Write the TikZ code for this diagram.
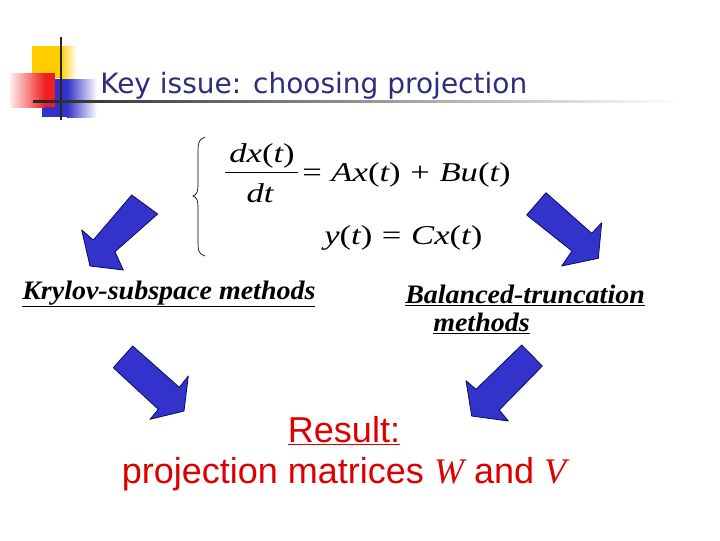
\documentclass[tikz,border=0pt]{standalone}
\usepackage{fontspec}
\usepackage{graphicx}
\setmainfont{Liberation Sans}
\newfontfamily\tnr{Liberation Serif}
\newfontfamily\titlefont{DejaVu Sans}
\newcommand\mi[1]{{\itshape #1}}
\newcommand\eqs[1]{\scalebox{1.3}[1.02]{#1}}
\newcommand\lbs[1]{\scalebox{1.05}[1]{#1}}
\definecolor{arrowfill}{RGB}{51,51,204}
\definecolor{arrowline}{RGB}{10,10,100}
\definecolor{titleblue}{RGB}{45,45,125}
\definecolor{resred}{RGB}{220,0,0}
\definecolor{decoyellow}{RGB}{255,204,0}
\definecolor{decored}{RGB}{240,30,30}
\definecolor{decoblue}{RGB}{50,50,200}
\tikzset{
  bigarrow/.style={fill=arrowfill, draw=arrowline, line width=0.6pt, line join=round},
  eqtext/.style={font=\tnr\fontsize{20}{24}\selectfont, inner sep=0pt},
  methlabel/.style={font=\tnr\bfseries\itshape\fontsize{20}{24}\selectfont, inner sep=0pt, anchor=base west},
}
\begin{document}
\begin{tikzpicture}[x=0.75pt,y=-0.75pt]
\useasboundingbox (0,0) rectangle (720,540);
% title decoration
\fill[decoyellow] (32,46) rectangle (60,78);
\shade[left color=decoyellow, right color=white] (60,46) rectangle (77,78);
\fill[decoblue] (42,79) rectangle (67,117);
\shade[left color=decoblue, right color=white] (67,79) rectangle (97,117);
\shade[left color=decored!8, right color=decored] (10,73) rectangle (45,107);
\fill[decored] (45,73) rectangle (55,107);
\draw[line width=1.6pt, black!85] (61,37) -- (61,120);
\shade[left color=black!85, right color=white] (33,100) rectangle (680,102.5);
\node[font=\titlefont\fontsize{21}{25}\selectfont, text=titleblue, anchor=base west, inner sep=0pt] (title) at (100,93) {Key issue: choosing projection};
% equation
\draw[line width=0.5pt] (205,137) .. controls (199,139) and (198,143) .. (198,150) -- (198,186) .. controls (198,192) and (196,195) .. (193,196) .. controls (196,197) and (198,200) .. (198,206) -- (198,244) .. controls (198,251) and (199,254) .. (205,256);
\node[eqtext, anchor=base] (num) at (262,162) {\eqs{\mi{dx}(\mi{t})}};
\draw[line width=0.8pt] (225,172.5) -- (298,172.5);
\node[eqtext, anchor=base] (den) at (260,202) {\eqs{\mi{dt}}};
\node[eqtext, anchor=base west] (rhs) at (302,181) {\eqs{=\;\mi{Ax}(\mi{t})\;+\;\mi{Bu}(\mi{t})}};
\node[eqtext, anchor=base west] (row2) at (324,244) {\eqs{\mi{y}(\mi{t})\;=\;\mi{Cx}(\mi{t})}};
% labels
\node[methlabel] (kry) at (22,299) {\lbs{\underline{Krylov-subspace methods}}};
\node[methlabel] (bal) at (405,303) {\lbs{\underline{Balanced-truncation}}};
\node[methlabel] (bal2) at (433,331.5) {\lbs{\underline{methods}}};
% arrows
\draw[bigarrow] (131.7,195) -- (157.7,214) -- (115,251.7) -- (123.3,270) -- (90,266) -- (81.7,230) -- (93.3,240) -- cycle;
\draw[bigarrow] (546,192.7) -- (591.7,233.3) -- (601.7,222.7) -- (598.3,258.3) -- (561.7,266) -- (572,251) -- (526.7,215) -- cycle;
\draw[bigarrow] (132.7,346) -- (179.3,387.3) -- (188.3,376) -- (184,411) -- (150,419.3) -- (158.3,409.3) -- (113.3,367.7) -- cycle;
\draw[bigarrow] (521.7,345) -- (542.3,366) -- (499.3,410) -- (508.3,421) -- (471.7,416) -- (466,380.7) -- (476,389.3) -- cycle;
% result
\node[font=\fontsize{27}{32}\selectfont, text=resred, anchor=base, inner sep=0pt] (res) at (344,442) {\underline{Result:}};
\node[font=\fontsize{27}{32}\selectfont, text=resred, anchor=base, inner sep=0pt] (proj) at (344,483) {projection matrices {\tnr\itshape W} and {\tnr\itshape V}};
\end{tikzpicture}
\end{document}
